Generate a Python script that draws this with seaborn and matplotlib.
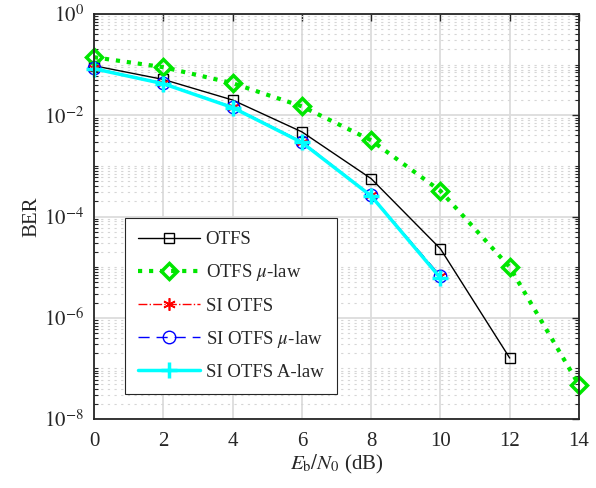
import numpy as np
import pandas as pd
import matplotlib
matplotlib.use("Agg")
import matplotlib.pyplot as plt
import matplotlib.ticker as mticker
import seaborn as sns

snr = [0, 2, 4, 6, 8, 10, 12, 14]
otfs = [0.095, 0.051, 0.020, 0.0047, 5.6e-4, 2.3e-5, 1.6e-7]
otfs_mu = [0.14, 0.089, 0.043, 0.015, 0.0032, 3.2e-4, 1.0e-5, 4.7e-8]
si_otfs = [0.085, 0.043, 0.0145, 0.0030, 2.6e-4, 6.6e-6]
si_otfs_mu = [0.085, 0.043, 0.0145, 0.0030, 2.6e-4, 6.6e-6]
si_otfs_a = [0.083, 0.042, 0.0142, 0.0029, 2.55e-4, 6.1e-6]

sns.set_theme(style="white")
plt.rcParams['font.family'] = ['Liberation Serif', 'DejaVu Serif']
plt.rcParams['mathtext.fontset'] = 'stix'

fig = plt.figure(figsize=(5.96, 4.88), dpi=100)
ax = fig.add_axes([94/596, 1-419/488, 485/596, 405/488])

series = [
    ("OTFS", otfs, dict(color='black', linestyle='-', linewidth=1.0, marker='s', markersize=7.5,
                        markerfacecolor='none', markeredgecolor='black', markeredgewidth=1.0)),
    (r"OTFS $\mu$-law", otfs_mu, dict(color='#00e600', linestyle=':', linewidth=3.0, marker='D', markersize=8,
                                     markerfacecolor='none', markeredgecolor='#00e600', markeredgewidth=2.5)),
    ("SI OTFS", si_otfs, dict(color='red', linestyle='-.', linewidth=1.0, marker=(6, 2, 0), markersize=9,
                              markerfacecolor='red', markeredgecolor='red', markeredgewidth=1.2)),
    (r"SI OTFS $\mu$-law", si_otfs_mu, dict(color='blue', linestyle=(0, (8, 5)), linewidth=1.0, marker='o', markersize=9,
                                           markerfacecolor='none', markeredgecolor='blue', markeredgewidth=1.0)),
    ("SI OTFS A-law", si_otfs_a, dict(color='cyan', linestyle='-', linewidth=2.5, marker='+', markersize=11,
                                      markeredgecolor='cyan', markeredgewidth=2.5)),
]

for label, vals, kw in series:
    df = pd.DataFrame({"snr": snr[:len(vals)], "ber": vals})
    sns.lineplot(data=df, x="snr", y="ber", ax=ax, label=label, clip_on=False, zorder=3, **kw)

ax.set_yscale('log')
ax.set_xlim(0, 14)
ax.set_ylim(1e-8, 1)
ax.set_xticks(snr)
ax.set_xticklabels([str(v) for v in snr])
ax.yaxis.set_major_locator(mticker.FixedLocator([1e-8, 1e-6, 1e-4, 1e-2, 1e0]))
ax.yaxis.set_major_formatter(mticker.FuncFormatter(lambda v, p: r"$10^{%d}$" % int(round(np.log10(v)))))
ax.yaxis.set_minor_locator(mticker.LogLocator(base=10, subs=np.arange(1, 10), numticks=100))
ax.yaxis.set_minor_formatter(mticker.NullFormatter())

ax.grid(True, which='major', color='#dcdcdc', linewidth=1.3, linestyle='-')
ax.grid(True, which='minor', axis='y', color='#d6d6d6', linewidth=0.8, linestyle=(0, (2, 4)))
ax.set_axisbelow(True)

for s in ax.spines.values():
    s.set_visible(True)
    s.set_color('#262626')
    s.set_linewidth(1.3)
    s.set_zorder(4)

ax.tick_params(axis='both', which='major', direction='in', length=5, width=1.0, colors='#262626',
               top=True, right=True, labelsize=15, labelcolor='#262626')
ax.tick_params(axis='x', which='major', pad=9)
ax.tick_params(axis='y', which='major', pad=7)
ax.tick_params(axis='y', which='minor', direction='in', length=3, width=0.8, colors='#262626', left=True, right=True)
ax.tick_params(axis='x', which='minor', bottom=False, top=False)

ax.set_xlabel(r"$E_\mathrm{b}/N_0$ (dB)", fontsize=15, color='#262626', labelpad=2)
ax.set_ylabel("BER", fontsize=15, color='#262626', labelpad=2)

leg = ax.legend(loc='lower left', bbox_to_anchor=(0.064, 0.062), fontsize=13.5, frameon=True,
                fancybox=False, edgecolor='#262626', framealpha=1, handlelength=3.3,
                labelspacing=0.75, borderpad=0.7, handletextpad=0.3, borderaxespad=0)
leg.get_frame().set_linewidth(0.8)
leg.set_zorder(5)

fig.savefig("out.png", dpi=100)
